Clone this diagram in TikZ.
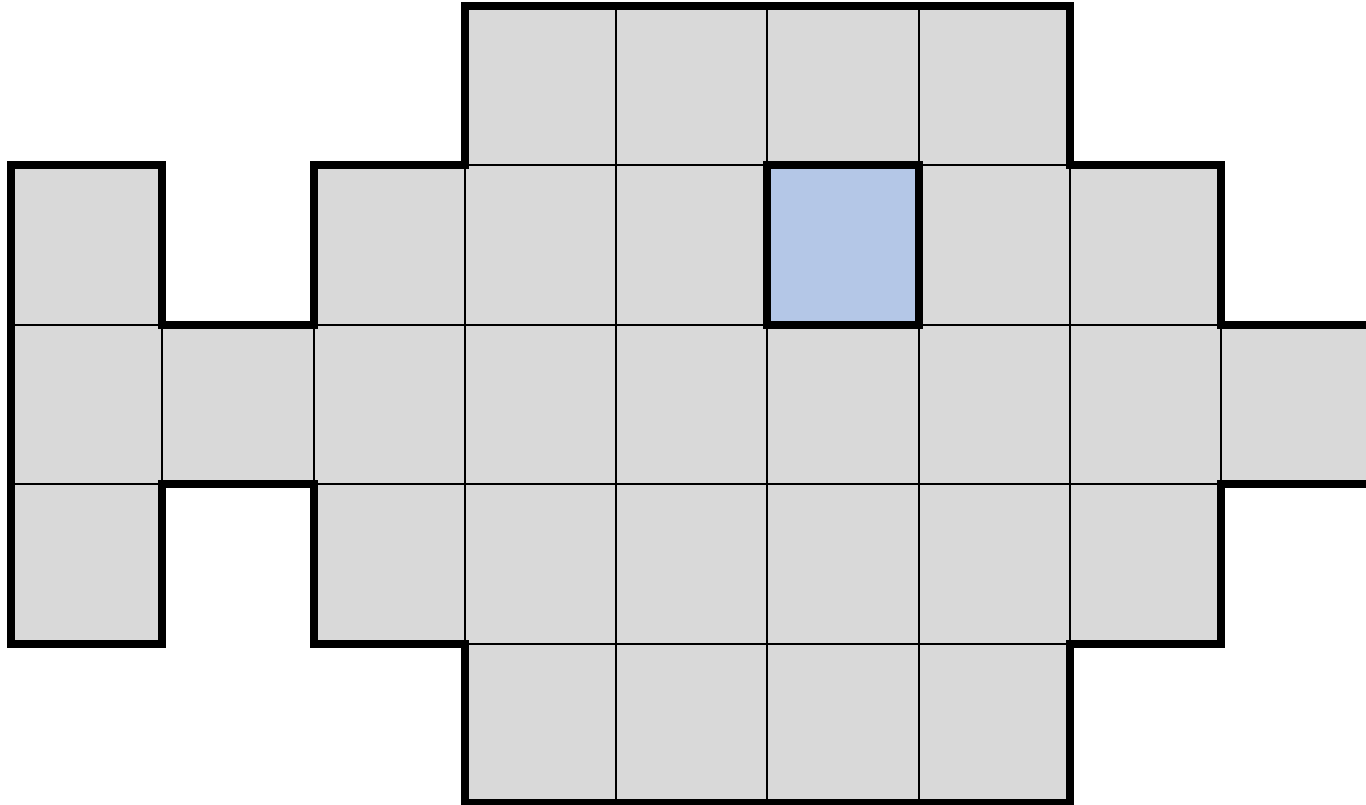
\documentclass[tikz,border=0pt]{standalone}
\definecolor{cellgray}{HTML}{D9D9D9}
\definecolor{cellblue}{HTML}{B4C7E7}
\tikzset{
  cell/.style={fill=cellgray, draw=black, line width=2pt},
  bluecell/.style={fill=cellblue, draw=black, line width=8pt, line join=miter},
  outline/.style={draw=black, line width=8pt, line join=miter}
}
\begin{document}
\begin{tikzpicture}[x=1pt,y=-1pt]
\useasboundingbox (0,0) rectangle (1366,804);
\clip (0,0) rectangle (1366,804);
\fill[white] (0,0) rectangle (1366,804);
\def\cw{151.25}
\def\ch{159.4}
\def\xo{11}
\def\yo{6}
% cells: col/row
\foreach \c/\r in {3/0,4/0,5/0,6/0,
  0/1,2/1,3/1,4/1,6/1,7/1,
  0/2,1/2,2/2,3/2,4/2,5/2,6/2,7/2,8/2,
  0/3,2/3,3/3,4/3,5/3,6/3,7/3,
  3/4,4/4,5/4,6/4}{
  \path[cell] ({\xo+\c*\cw},{\yo+\r*\ch}) rectangle ({\xo+(\c+1)*\cw},{\yo+(\r+1)*\ch});
}
% highlighted cell
\path[bluecell] ({\xo+5*\cw},{\yo+1*\ch}) rectangle ({\xo+6*\cw},{\yo+2*\ch});
% thick outline of the shape
\path[outline]
  (1400,{\yo+2*\ch})
  -- ({\xo+8*\cw},{\yo+2*\ch}) -- ({\xo+8*\cw},{\yo+1*\ch})
  -- ({\xo+7*\cw},{\yo+1*\ch}) -- ({\xo+7*\cw},{\yo})
  -- ({\xo+3*\cw},{\yo}) -- ({\xo+3*\cw},{\yo+1*\ch})
  -- ({\xo+2*\cw},{\yo+1*\ch}) -- ({\xo+2*\cw},{\yo+2*\ch})
  -- ({\xo+1*\cw},{\yo+2*\ch}) -- ({\xo+1*\cw},{\yo+1*\ch})
  -- ({\xo},{\yo+1*\ch}) -- ({\xo},{\yo+4*\ch})
  -- ({\xo+1*\cw},{\yo+4*\ch}) -- ({\xo+1*\cw},{\yo+3*\ch})
  -- ({\xo+2*\cw},{\yo+3*\ch}) -- ({\xo+2*\cw},{\yo+4*\ch})
  -- ({\xo+3*\cw},{\yo+4*\ch}) -- ({\xo+3*\cw},{\yo+5*\ch})
  -- ({\xo+7*\cw},{\yo+5*\ch}) -- ({\xo+7*\cw},{\yo+4*\ch})
  -- ({\xo+8*\cw},{\yo+4*\ch}) -- ({\xo+8*\cw},{\yo+3*\ch})
  -- (1400,{\yo+3*\ch});
\end{tikzpicture}
\end{document}
